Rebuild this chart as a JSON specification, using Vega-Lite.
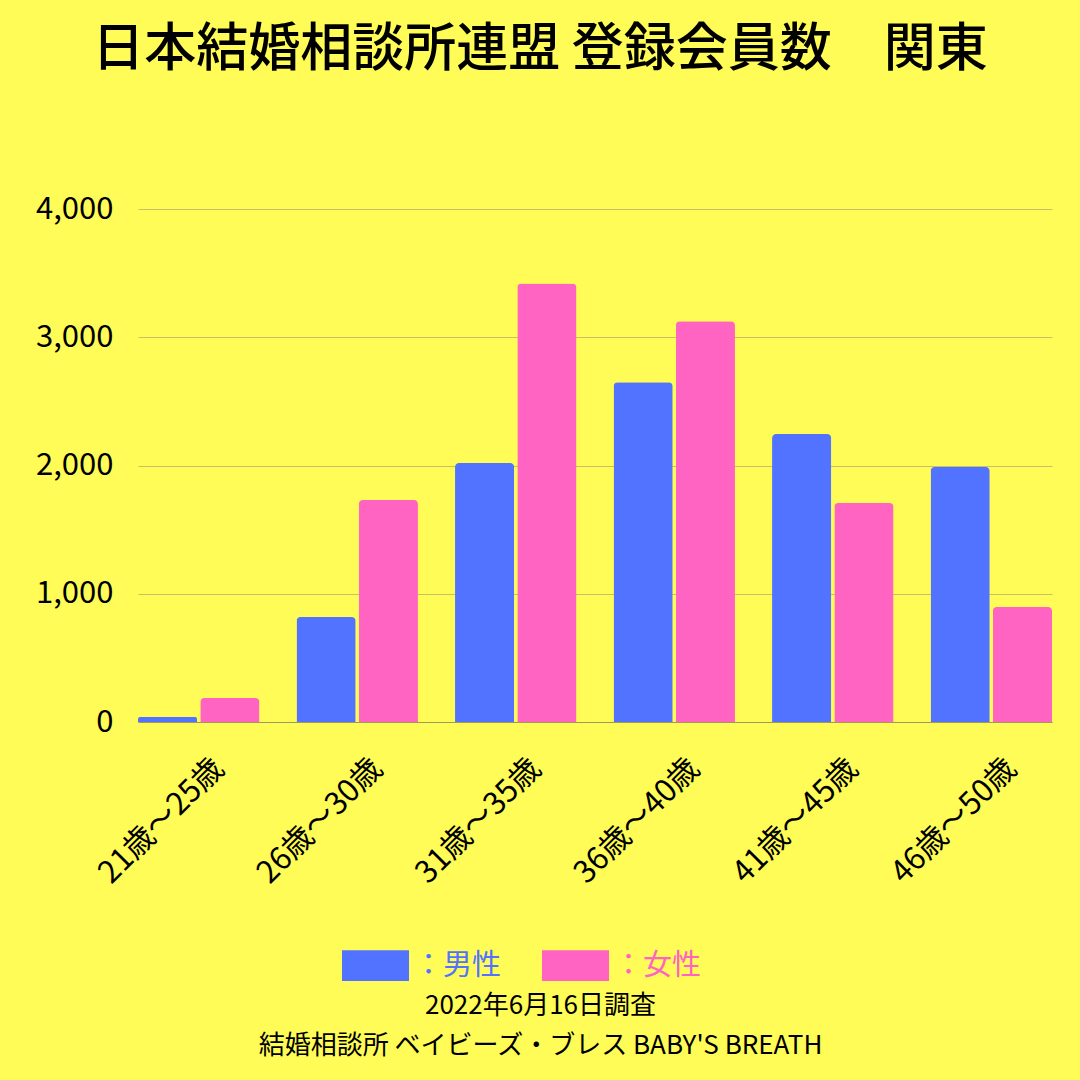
{
  "$schema": "https://vega.github.io/schema/vega-lite/v6.json",
  "width": 914,
  "height": 513,
  "autosize": {"type": "none"},
  "padding": {"left": 138, "top": 209, "right": 28, "bottom": 358},
  "background": "#fffc57",
  "title": {
    "text": "日本結婚相談所連盟 登録会員数　関東",
    "font": "Noto Sans CJK JP",
    "fontSize": 52,
    "fontWeight": 500,
    "color": "#000000",
    "anchor": "middle",
    "dx": -55,
    "offset": 116
  },
  "data": {
    "values": [
      {"age": "21歳〜25歳", "sex": "男性", "count": 40},
      {"age": "21歳〜25歳", "sex": "女性", "count": 187},
      {"age": "26歳〜30歳", "sex": "男性", "count": 819},
      {"age": "26歳〜30歳", "sex": "女性", "count": 1731},
      {"age": "31歳〜35歳", "sex": "男性", "count": 2019},
      {"age": "31歳〜35歳", "sex": "女性", "count": 3420},
      {"age": "36歳〜40歳", "sex": "男性", "count": 2649},
      {"age": "36歳〜40歳", "sex": "女性", "count": 3124},
      {"age": "41歳〜45歳", "sex": "男性", "count": 2245},
      {"age": "41歳〜45歳", "sex": "女性", "count": 1708},
      {"age": "46歳〜50歳", "sex": "男性", "count": 1988},
      {"age": "46歳〜50歳", "sex": "女性", "count": 897}
    ]
  },
  "mark": {"type": "bar", "cornerRadiusTopLeft": 4, "cornerRadiusTopRight": 4},
  "encoding": {
    "x": {
      "field": "age",
      "type": "nominal",
      "sort": null,
      "scale": {"paddingInner": 0.234, "paddingOuter": 0},
      "axis": {
        "labelAngle": -45,
        "labelFont": "Noto Sans CJK JP",
        "labelFontSize": 31,
        "labelFontWeight": "normal",
        "labelColor": "#000000",
        "labelPadding": 31,
        "labelOffset": 10,
        "ticks": false,
        "domain": true,
        "domainColor": "#a09a5a",
        "domainWidth": 1,
        "grid": false,
        "title": ["2022年6月16日調査", "結婚相談所 ベイビーズ・ブレス BABY'S BREATH"],
        "titleFont": "Noto Sans CJK JP",
        "titleFontSize": 26,
        "titleFontWeight": "normal",
        "titleColor": "#000000",
        "titleX": 402,
        "titleY": 270,
        "titleAlign": "center",
        "titleBaseline": "top",
        "titleLineHeight": 40
      }
    },
    "xOffset": {
      "field": "sex",
      "type": "nominal",
      "sort": ["男性", "女性"],
      "scale": {"paddingInner": 0.05, "paddingOuter": 0}
    },
    "y": {
      "field": "count",
      "type": "quantitative",
      "scale": {"domain": [0, 4000]},
      "axis": {
        "values": [0, 1000, 2000, 3000, 4000],
        "format": ",d",
        "labelFont": "Noto Sans CJK JP",
        "labelFontSize": 31,
        "labelColor": "#000000",
        "labelPadding": 25,
        "ticks": false,
        "domain": false,
        "grid": true,
        "gridColor": "#c8bf66",
        "gridWidth": 1,
        "title": null
      }
    },
    "color": {
      "field": "sex",
      "type": "nominal",
      "sort": ["男性", "女性"],
      "scale": {"domain": ["男性", "女性"], "range": ["#5273ff", "#ff64c2"]},
      "legend": {
        "orient": "none",
        "legendX": 204,
        "legendY": 723,
        "direction": "horizontal",
        "title": null,
        "symbolType": "M-1,-0.46H1V0.46H-1Z",
        "symbolSize": 4489,
        "symbolStrokeWidth": 0,
        "symbolOpacity": 1,
        "labelExpr": "'：' + datum.label",
        "labelFont": "Noto Sans CJK JP",
        "labelFontSize": 29,
        "labelOffset": 5,
        "columnPadding": 40,
        "encode": {
          "labels": {
            "update": {
              "fill": {"signal": "datum.value === '男性' ? '#5273ff' : '#ff64c2'"}
            }
          }
        }
      }
    }
  },
  "config": {"view": {"stroke": null}}
}
